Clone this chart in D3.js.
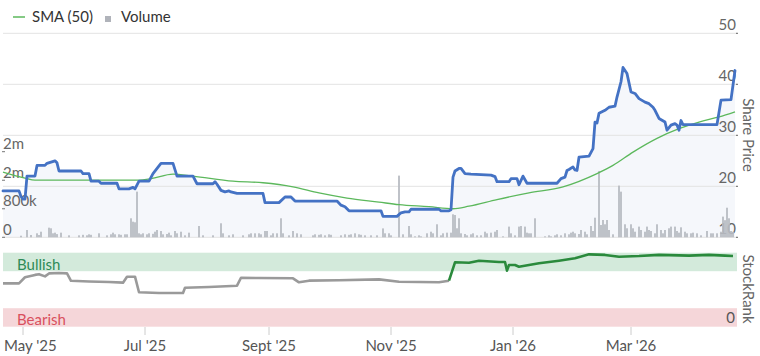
<!DOCTYPE html>
<html><head><meta charset="utf-8">
<script src="https://cdn.jsdelivr.net/npm/d3@7"></script>
<style>
body{margin:0;background:#fff;font-family:Lato,"Open Sans",sans-serif;}
svg{display:block}
</style>
</head><body>
<svg id="chart" width="760" height="356"></svg>
<script>
// ---------- DATA ----------
const priceDates = ["2025-04-21","2025-04-29","2025-04-30","2025-05-01","2025-05-02","2025-05-03","2025-05-07","2025-05-08","2025-05-12","2025-05-13","2025-05-17","2025-05-18","2025-05-19","2025-05-30","2025-05-31","2025-06-03","2025-06-04","2025-06-08","2025-06-09","2025-06-17","2025-06-18","2025-06-23","2025-06-25","2025-06-26","2025-06-28","2025-07-03","2025-07-05","2025-07-08","2025-07-09","2025-07-15","2025-07-17","2025-07-25","2025-07-27","2025-08-04","2025-08-05","2025-08-06","2025-08-08","2025-08-10","2025-08-12","2025-08-13","2025-08-16","2025-08-29","2025-08-30","2025-09-06","2025-09-09","2025-09-12","2025-09-14","2025-10-05","2025-10-07","2025-10-09","2025-10-11","2025-10-27","2025-10-28","2025-11-04","2025-11-06","2025-11-08","2025-11-10","2025-11-11","2025-11-25","2025-11-26","2025-11-30","2025-12-01","2025-12-02","2025-12-03","2025-12-05","2025-12-06","2025-12-08","2025-12-11","2025-12-21","2025-12-23","2025-12-24","2025-12-30","2025-12-31","2026-01-03","2026-01-04","2026-01-06","2026-01-08","2026-01-23","2026-01-25","2026-01-27","2026-01-28","2026-01-29","2026-01-31","2026-02-01","2026-02-02","2026-02-03","2026-02-08","2026-02-10","2026-02-11","2026-02-12","2026-02-13","2026-02-16","2026-02-18","2026-02-21","2026-02-22","2026-02-24","2026-02-25","2026-02-27","2026-03-01","2026-03-03","2026-03-05","2026-03-08","2026-03-10","2026-03-12","2026-03-13","2026-03-15","2026-03-18","2026-03-19","2026-03-21","2026-03-23","2026-03-24","2026-03-25","2026-03-26","2026-03-27","2026-04-13","2026-04-15","2026-04-20","2026-04-22"];
const priceValues = [19.1,19.1,18.0,17.5,17.5,22.0,22.0,24.1,24.1,24.5,25.0,24.6,23.0,23.0,22.5,22.5,21.0,21.0,20.6,20.6,19.5,19.5,19.8,19.5,21.0,21.0,22.5,24.0,24.5,24.5,22.0,22.0,20.5,20.5,20.9,20.4,19.2,18.9,19.1,18.9,18.6,18.6,16.8,16.8,17.9,17.9,17.1,17.1,16.3,16.0,15.2,15.2,14.1,14.1,14.8,15.0,15.0,15.5,15.5,15.2,15.2,15.4,21.8,23.0,23.5,23.5,22.5,22.4,22.2,21.9,20.9,20.9,21.5,21.5,20.3,22.0,20.6,20.6,21.5,21.8,23.1,23.3,23.8,23.2,23.1,25.7,25.9,27.4,32.6,32.4,34.3,34.9,35.5,35.7,37.5,40.5,43.3,42.1,38.5,38.2,37.2,36.5,36.2,35.5,34.9,33.3,32.6,31.0,32.0,32.3,32.0,31.0,32.9,32.1,32.1,36.9,37.0,42.7];

const smaDates = ["2025-04-21","2025-05-02","2025-05-07","2025-06-08","2025-06-28","2025-07-04","2025-07-15","2025-07-25","2025-08-14","2025-08-29","2025-09-13","2025-09-26","2025-10-10","2025-10-26","2025-11-05","2025-11-20","2025-12-02","2025-12-10","2025-12-24","2026-01-09","2026-01-26","2026-02-12","2026-02-20","2026-03-02","2026-03-14","2026-03-25","2026-04-04","2026-04-14","2026-04-22"];
const smaValues = [22.8,21.6,21.2,21.2,21.2,21.5,22.4,22.0,21.0,20.7,19.9,18.7,17.7,16.9,16.4,16.0,15.6,16.1,17.4,18.7,19.9,22.5,24.1,26.7,29.4,31.3,32.6,33.6,34.6];

const rankDates = ["2025-04-21","2025-04-29","2025-05-02","2025-05-07","2025-05-09","2025-05-12","2025-05-14","2025-05-19","2025-05-23","2025-05-25","2025-06-03","2025-06-13","2025-06-20","2025-06-22","2025-06-26","2025-06-28","2025-07-08","2025-07-20","2025-07-21","2025-08-02","2025-08-16","2025-08-18","2025-08-27","2025-09-13","2025-09-16","2025-09-21","2025-10-06","2025-10-26","2025-11-05","2025-11-15","2025-11-25","2025-11-30","2025-12-03","2025-12-10","2025-12-15","2025-12-25","2025-12-28","2025-12-29","2025-12-30","2026-01-02","2026-01-04","2026-01-09","2026-01-14","2026-01-24","2026-02-01","2026-02-08","2026-02-16","2026-02-23","2026-03-05","2026-03-15","2026-03-30","2026-04-09","2026-04-17","2026-04-21"];
const rankValues = [58.6,58.6,66.8,70,71,68,72,72.5,72,62,61,60.4,59.5,67.6,67.6,46.5,45.5,45.5,52.7,53.6,55.4,66.2,65.8,65.4,60,62.2,62.7,64,60.8,60.4,60,62.2,87,86.5,89.2,87.4,87.4,75.7,83.4,83.4,81,83.4,85.7,89.2,92.4,97.8,97,94.6,95.5,97,96,97,96,95.5];

// Volume: day number counted from volStart, volume in thousands
const volStart = "2025-04-21";
const volDays = [
 9,12,14,17,18,19,23,24,25,26,
 27,29,33,38,40,42,43,44,48,52,
 54,55,56,58,59,61,62,64,65,66,
 67,68,69,70,72,73,75,76,77,79,
 80,82,83,84,86,87,89,91,93,98,
 100,105,109,110,113,115,120,123,124,126,
 128,129,131,132,134,135,137,139,140,143,
 145,147,149,155,156,158,159,161,163,164,
 169,171,173,174,176,178,179,181,184,187,
 190,191,193,194,198,200,203,204,206,208,
 209,212,214,215,217,219,220,222,224,225,
 226,227,228,229,231,232,234,235,237,239,
 241,242,244,246,247,250,253,254,256,258,
 259,261,262,263,264,266,271,273,274,276,
 277,279,281,283,284,285,286,288,289,291,
 292,294,295,296,298,299,300,301,302,303,
 305,308,309,311,312,314,315,316,318,319,
 321,322,323,324,326,327,329,330,331,333,
 334,336,337,338,339,341,342,344,345,347,
 349,352,354,355,357,359,360,361,362,363,
 364,365];
const volK = [
 45,205,65,112,65,157,270,253,112,130,
 90,130,56,56,70,56,84,70,112,56,
 84,130,84,84,70,84,84,533,438,421,
 1280,112,84,112,84,112,98,157,205,177,
 84,93,130,56,177,112,157,56,130,317,
 56,56,393,112,56,84,56,84,112,112,
 112,84,177,177,56,112,112,533,112,56,
 177,112,84,56,84,70,84,56,84,70,
 56,84,70,84,112,84,70,56,56,56,
 250,112,112,56,1730,84,317,84,28,56,
 28,112,157,112,365,56,112,130,130,645,
 625,253,533,112,93,56,84,112,56,56,
 157,112,130,157,205,28,300,112,56,300,
 317,300,130,112,112,533,28,56,28,56,
 84,56,112,84,130,157,112,93,205,157,
 84,317,177,550,1860,345,485,365,485,205,
 84,1450,1280,365,253,365,253,157,300,205,
 157,300,205,177,112,365,205,112,205,253,
 300,300,177,130,280,157,112,112,130,112,
 56,177,112,112,112,157,580,480,830,533,
 177,157];

const priceTicks = [10,20,30,40,50];
const volTicks = [0,800000,1600000,2400000];
const volTickLabels = ["0","800k","2m","2m"];
const monthTicks = ["2025-05-01","2025-07-01","2025-09-01","2025-11-01","2026-01-01","2026-03-01"];
const monthLabels = ["May '25","Jul '25","Sept '25","Nov '25","Jan '26","Mar '26"];
const rankBands = [{name:"Bullish",lo:75,hi:100},{name:"Bearish",lo:0,hi:25}];

// ---------- CHART ----------
const parse = d3.timeParse("%Y-%m-%d");
const svg = d3.select("#chart");
const FONT = "Lato, 'Open Sans', sans-serif";
const LEFT = 3, RIGHT = 737;

const x = d3.scaleTime().domain([parse("2025-04-21"), parse("2026-04-22")]).range([3, 735]);
const yP = d3.scaleLinear().domain([10,50]).range([237.3, 33.3]);
const yV = d3.scaleLinear().domain([0,2400000]).range([237.3, 151.7]);
const yR = d3.scaleLinear().domain([0,100]).range([326.7, 252.7]);

const price = priceDates.map((d,i)=>({date:parse(d), v:priceValues[i]}));
const sma = smaDates.map((d,i)=>({date:parse(d), v:smaValues[i]}));
const rank = rankDates.map((d,i)=>({date:parse(d), v:rankValues[i]}));
const v0 = parse(volStart);
const vol = volDays.map((d,i)=>({date:d3.timeDay.offset(v0,d), v:volK[i]*1000}));

// area under price
svg.append("path").datum(price)
  .attr("fill","#f5f7fb")
  .attr("d", d3.area().x(d=>x(d.date)).y0(yP(10)).y1(d=>yP(d.v)));

// gridlines
svg.append("g").selectAll("line").data(priceTicks).join("line")
  .attr("x1",LEFT).attr("x2",RIGHT)
  .attr("y1",d=>yP(d)).attr("y2",d=>yP(d))
  .attr("stroke","#e3e3e3").attr("stroke-width",1);

// right price axis labels
const pAxis = svg.append("g");
pAxis.selectAll("text").data(priceTicks).join("text")
  .attr("x",736).attr("y",d=>yP(d)-3)
  .attr("text-anchor","end")
  .attr("font-family",FONT).attr("font-size",15).attr("fill","#666")
  .text(d=>d);
pAxis.selectAll("line").data(priceTicks).join("line")
  .attr("x1",736).attr("x2",738).attr("y1",d=>yP(d)).attr("y2",d=>yP(d))
  .attr("stroke","#666").attr("stroke-width",1);

// volume bars
svg.append("g").selectAll("rect").data(vol).join("rect")
  .attr("x",d=>x(d.date)-0.9).attr("width",1.8)
  .attr("y",d=>yV(d.v)).attr("height",d=>yV(0)-yV(d.v))
  .attr("fill","#b9bcc3");

// left volume axis labels
const vAxis = svg.append("g");
vAxis.selectAll("text").data(volTicks).join("text")
  .attr("x",3).attr("y",d=>yV(d)-2.5)
  .attr("font-family",FONT).attr("font-size",15).attr("fill","#666")
  .text((d,i)=>volTickLabels[i]);
vAxis.selectAll("line").data(volTicks).join("line")
  .attr("x1",2).attr("x2",5).attr("y1",d=>yV(d)).attr("y2",d=>yV(d))
  .attr("stroke","#777").attr("stroke-width",1);

// SMA line
svg.append("path").datum(sma)
  .attr("fill","none").attr("stroke","#5cb85c").attr("stroke-width",1.3)
  .attr("d", d3.line().x(d=>x(d.date)).y(d=>yP(d.v)).curve(d3.curveMonotoneX));

// price line
svg.append("path").datum(price)
  .attr("fill","none").attr("stroke","#4472c4").attr("stroke-width",2.8)
  .attr("stroke-linejoin","round").attr("stroke-linecap","round")
  .attr("d", d3.line().x(d=>x(d.date)).y(d=>yP(d.v)));

// "Share Price" label
svg.append("text")
  .attr("transform",`translate(743,135) rotate(90)`)
  .attr("text-anchor","middle")
  .attr("font-family",FONT).attr("font-size",15).attr("fill","#666")
  .text("Share Price");

// ---- StockRank panel ----
svg.append("g").selectAll("rect").data(rankBands).join("rect")
  .attr("x",LEFT).attr("width",RIGHT-LEFT)
  .attr("y",d=>yR(d.hi)).attr("height",d=>yR(d.lo)-yR(d.hi))
  .attr("fill",d=>d.name==="Bullish"?"#d3eadb":"#f5d6d9");

svg.append("text").attr("x",17).attr("y",yR(75)-1)
  .attr("font-family",FONT).attr("font-size",15).attr("fill","#2e8b57")
  .text("Bullish");
svg.append("text").attr("x",17).attr("y",yR(0)-2)
  .attr("font-family",FONT).attr("font-size",15).attr("fill","#d9505e")
  .text("Bearish");
svg.append("text").attr("x",735).attr("y",yR(0)-4).attr("text-anchor","end")
  .attr("font-family",FONT).attr("font-size",15).attr("fill","#555")
  .text("0");

// rank line: gray below threshold, green above
const rLine = d3.line().x(d=>x(d.date)).y(d=>yR(d.v));
const splitIdx = rank.findIndex(d=>d.v>=75);
svg.append("path").datum(rank.slice(0, splitIdx))
  .attr("fill","none").attr("stroke","#9a9a9a").attr("stroke-width",2.6)
  .attr("stroke-linejoin","round").attr("d",rLine);
svg.append("path").datum(rank.slice(splitIdx-1))
  .attr("fill","none").attr("stroke","#2a8a3c").attr("stroke-width",2.6)
  .attr("stroke-linejoin","round").attr("d",rLine);

svg.append("text")
  .attr("transform",`translate(743,289) rotate(90)`)
  .attr("text-anchor","middle")
  .attr("font-family",FONT).attr("font-size",15).attr("fill","#666")
  .text("StockRank");

// ---- x axis ----
const xa = svg.append("g");
xa.selectAll("line").data(monthTicks).join("line")
  .attr("x1",d=>x(parse(d))).attr("x2",d=>x(parse(d)))
  .attr("y1",327).attr("y2",335)
  .attr("stroke","#ccc").attr("stroke-width",1);
xa.selectAll("text").data(monthTicks).join("text")
  .attr("x",d=>x(parse(d))).attr("y",351)
  .attr("text-anchor","middle")
  .attr("font-family",FONT).attr("font-size",15).attr("fill","#555")
  .text((d,i)=>monthLabels[i])
  .each(function(){
    // keep edge labels inside the chart, like the reference
    const w = this.getComputedTextLength();
    const cx = +this.getAttribute("x");
    if (cx - w/2 < 4) this.setAttribute("x", 4 + w/2);
  });

// ---- legend ----
const lg = svg.append("g");
lg.append("line").attr("x1",13).attr("x2",25).attr("y1",17).attr("y2",17)
  .attr("stroke","#5cb85c").attr("stroke-width",1.5);
lg.append("text").attr("x",32).attr("y",22)
  .attr("font-family",FONT).attr("font-size",15).attr("fill","#333").text("SMA (50)");
lg.append("rect").attr("x",105).attr("y",16).attr("width",6).attr("height",6).attr("fill","#b0b3ba");
lg.append("text").attr("x",121).attr("y",22)
  .attr("font-family",FONT).attr("font-size",15).attr("fill","#333").text("Volume");
</script>
</body></html>
